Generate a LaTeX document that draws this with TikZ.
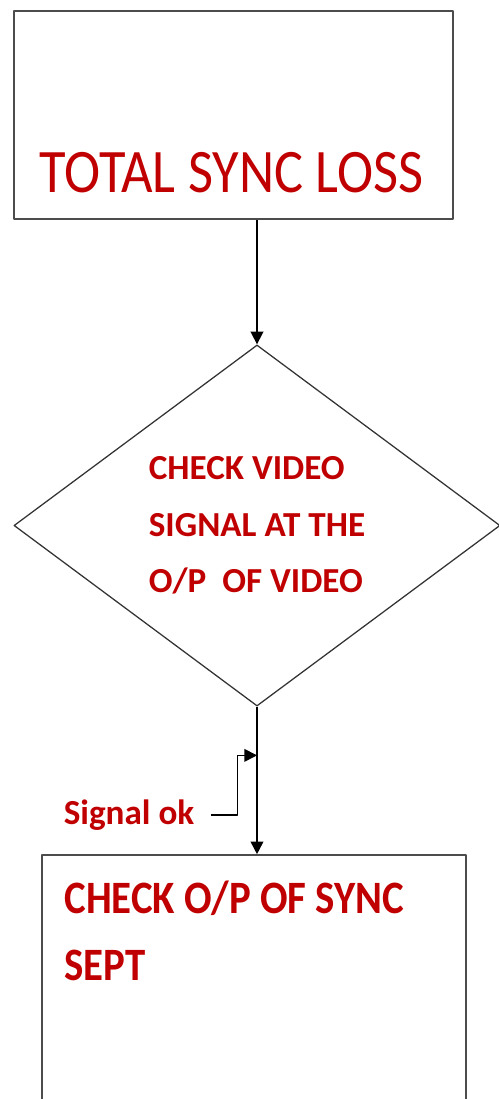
\documentclass[tikz,border=0pt]{standalone}
\usepackage{fontspec}
\setmainfont{Carlito}
\usetikzlibrary{shapes.geometric, arrows.meta, positioning, calc}
\definecolor{faultred}{HTML}{C00000}

\begin{document}
\begin{tikzpicture}[x=0.025cm, y=-0.025cm, line join=round,
    box/.style={draw=black!70, line width=1.1pt, inner sep=0pt},
    decision/.style={diamond, draw=black!80, line width=0.9pt, inner sep=0pt, align=left,
      text=faultred, font=\fontsize{25}{40}\selectfont\bfseries},
    flow/.style={draw=black, line width=1.2pt, -{Triangle[length=9pt, width=9pt]}}]
  % Page frame of the picture
  \useasboundingbox (0,0) rectangle (499,1099);
  \clip (0,0) rectangle (499,1099);

  % Start box
  \node[box, minimum width=10.975cm, minimum height=5.2cm] (loss) at (233.5,115) {};
  \node[anchor=base, inner sep=0pt, text=faultred, xscale=0.88,
    font=\fontsize{44}{50}\selectfont]
    (losstext) at ($(loss.south)+(-2,-27)$) {TOTAL SYNC LOSS};

  % Decision
  \node[decision, minimum width=12.15cm, minimum height=9.025cm] (check) at (257,525.5)
    {CHECK VIDEO\\SIGNAL AT THE\\O/P\ \ OF VIDEO};

  % Next box, cut by the lower edge
  \node[box, minimum width=10.6cm, minimum height=6.625cm] (sept) at (254,987.5) {};
  \node[anchor=north west, inner sep=0pt, align=left, text=faultred, xscale=0.88,
    font=\fontsize{33}{48}\selectfont\bfseries]
    (septtext) at ($(sept.north west)+(23,26)$) {CHECK O/P OF SYNC\\SEPT};

  % Connectors
  \draw[flow] (loss.south -| check.north) -- (check.north);
  \draw[flow] (check.south) -- (check.south |- sept.north);

  % Side note on the link
  \coordinate (tap) at ($(check.south)!0.33!(check.south |- sept.north)$);
  \node[inner sep=0pt, text=faultred, font=\fontsize{25}{30}\selectfont\bfseries]
    (okl) at (129,815) {Signal ok};
  \draw[flow] ([xshift=0.4cm]okl.east) -- ++(27,0) |- (tap);
\end{tikzpicture}
\end{document}
